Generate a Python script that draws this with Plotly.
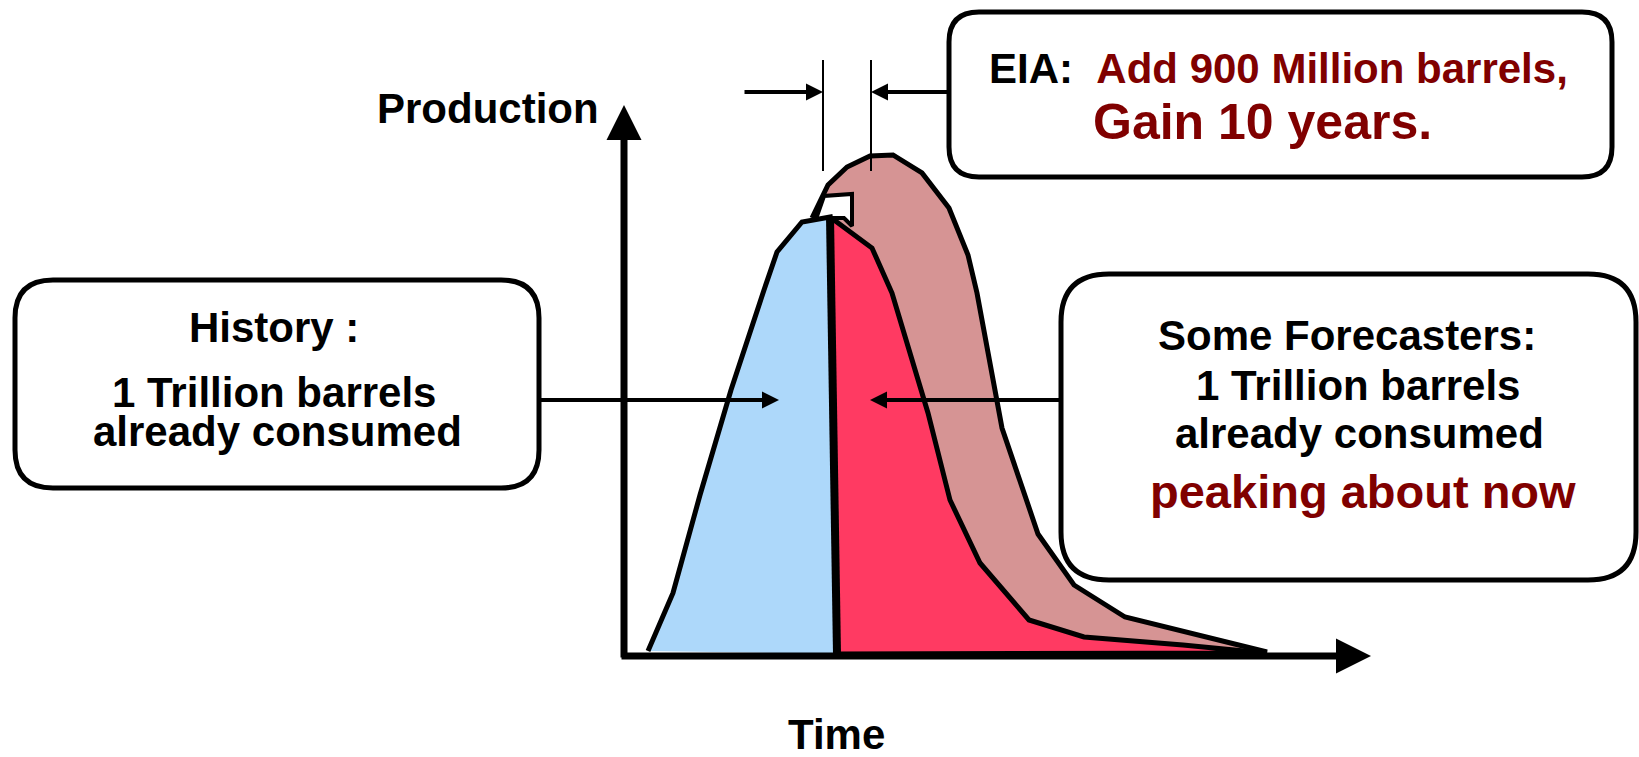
import plotly.graph_objects as go

# ---------------- data (time units from axis origin, production units above baseline) -------------
HIST_T = [24, 49, 76, 107, 140, 153, 178, 206, 213]
HIST_P = [5, 63, 161, 266, 366, 404, 434, 439, 2]

FCST_T = [206, 228, 248, 268, 286, 304, 326, 356, 405, 460, 559, 641, 213]
FCST_P = [439, 423, 408, 363, 303, 243, 156, 93, 36, 19, 11, 3, 2]

EIA_T = [188, 204, 223, 246, 269, 298, 325, 344, 353, 378, 414, 450, 501, 643, 213, 206]
EIA_P = [438, 471, 489, 500, 501, 483, 448, 401, 363, 228, 122, 71, 39, 4, 2, 439]

NOTCH_T = [192, 200, 228, 228, 220, 207]
NOTCH_P = [437, 460, 462, 430, 438, 438]

DIVIDER_T = [206, 213]
DIVIDER_P = [439, 2]

GAP_T = [199, 247]          # peak shift markers
GAP_P = [596, 485]

BLUE = "#ADD8FA"
RED = "#FF3A62"
PINK = "#D69494"
MAROON = "#800000"
FONT = "Liberation Sans, Arial, sans-serif"

fig = go.Figure()

def poly(t, p, fill, lw=5):
    fig.add_trace(go.Scatter(x=t, y=p, mode="lines", fill="toself", fillcolor=fill,
                             line=dict(color="black", width=lw), hoverinfo="skip",
                             showlegend=False))

poly(EIA_T, EIA_P, PINK)
poly(NOTCH_T, NOTCH_P, "white", 4)
poly(FCST_T, FCST_P, RED)
poly(HIST_T, HIST_P, BLUE)
fig.add_trace(go.Scatter(x=DIVIDER_T, y=DIVIDER_P, mode="lines",
                         line=dict(color="black", width=8), hoverinfo="skip", showlegend=False))
for gt in GAP_T:
    fig.add_trace(go.Scatter(x=[gt, gt], y=GAP_P, mode="lines",
                             line=dict(color="black", width=2), hoverinfo="skip", showlegend=False))

# ---------------- boxes ----------------
def rrect(x0, y0, x1, y1, r):
    return (f"M{x0+r},{y0} L{x1-r},{y0} Q{x1},{y0} {x1},{y0+r} L{x1},{y1-r} "
            f"Q{x1},{y1} {x1-r},{y1} L{x0+r},{y1} Q{x0},{y1} {x0},{y1-r} "
            f"L{x0},{y0+r} Q{x0},{y0} {x0+r},{y0} Z")

shapes = []
for (x0, y0, x1, y1, r) in [(-609, 168, -85, 376, 38), (325, 479, 988, 644, 30), (437, 76, 1012, 382, 48)]:
    shapes.append(dict(type="path", path=rrect(x0, y0, x1, y1, r), xref="x", yref="y",
                       line=dict(color="black", width=5), fillcolor="white", layer="above"))

# ---------------- arrows ----------------
ann = []
def arrow(x0, y0, x1, y1, w, size):
    ann.append(dict(x=x1, y=y1, ax=x0, ay=y0, xref="x", yref="y", axref="x", ayref="y",
                    text="", showarrow=True, arrowhead=2, arrowsize=size, arrowwidth=w,
                    arrowcolor="black", standoff=0, startstandoff=0))

arrow(0, -3, 0, 551, 7, 1.0)        # production axis
arrow(-4, 0, 747, 0, 7, 1.0)        # time axis
arrow(-85, 256, 155, 256, 4, 0.85)  # history
arrow(437, 256, 246, 256, 4, 0.85)  # forecasters
arrow(119, 564, 199, 564, 4, 0.85)  # EIA left
arrow(325, 564, 247, 564, 4, 0.85)  # EIA right

def text(x, y, s, size, color="black"):
    ann.append(dict(x=x, y=y, xref="x", yref="y", text=f"<b>{s}</b>", showarrow=False,
                    xanchor="center", yanchor="middle",
                    font=dict(family=FONT, size=size, color=color)))

text(-136, 548, "Production", 42)
text(212, -78, "Time", 42)
text(-350, 329, "History :", 42)
text(-350, 264, "1 Trillion barrels", 42)
text(-347, 225, "already consumed", 42)
text(723, 321, "Some Forecasters:", 42)
text(734, 271, "1 Trillion barrels", 42)
text(735, 223, "already consumed", 42)
text(739, 165, "peaking about now", 47, MAROON)
text(654, 588, f"EIA:&nbsp;&nbsp;<span style='color:{MAROON}'>Add 900 Million barrels,</span>", 42)
text(638, 534, "Gain 10 years.", 50, MAROON)

fig.update_layout(
    width=1639, height=757, autosize=False,
    margin=dict(l=0, r=0, t=0, b=0, pad=0),
    paper_bgcolor="white", plot_bgcolor="white",
    xaxis=dict(range=[-624, 1015], visible=False, fixedrange=True),
    yaxis=dict(range=[-101, 656], visible=False, fixedrange=True),
    shapes=shapes, annotations=ann, showlegend=False,
)

fig.write_html("out.html", config={"displayModeBar": False},
               post_script="document.body.style.margin='0';document.body.style.overflow='hidden';")
